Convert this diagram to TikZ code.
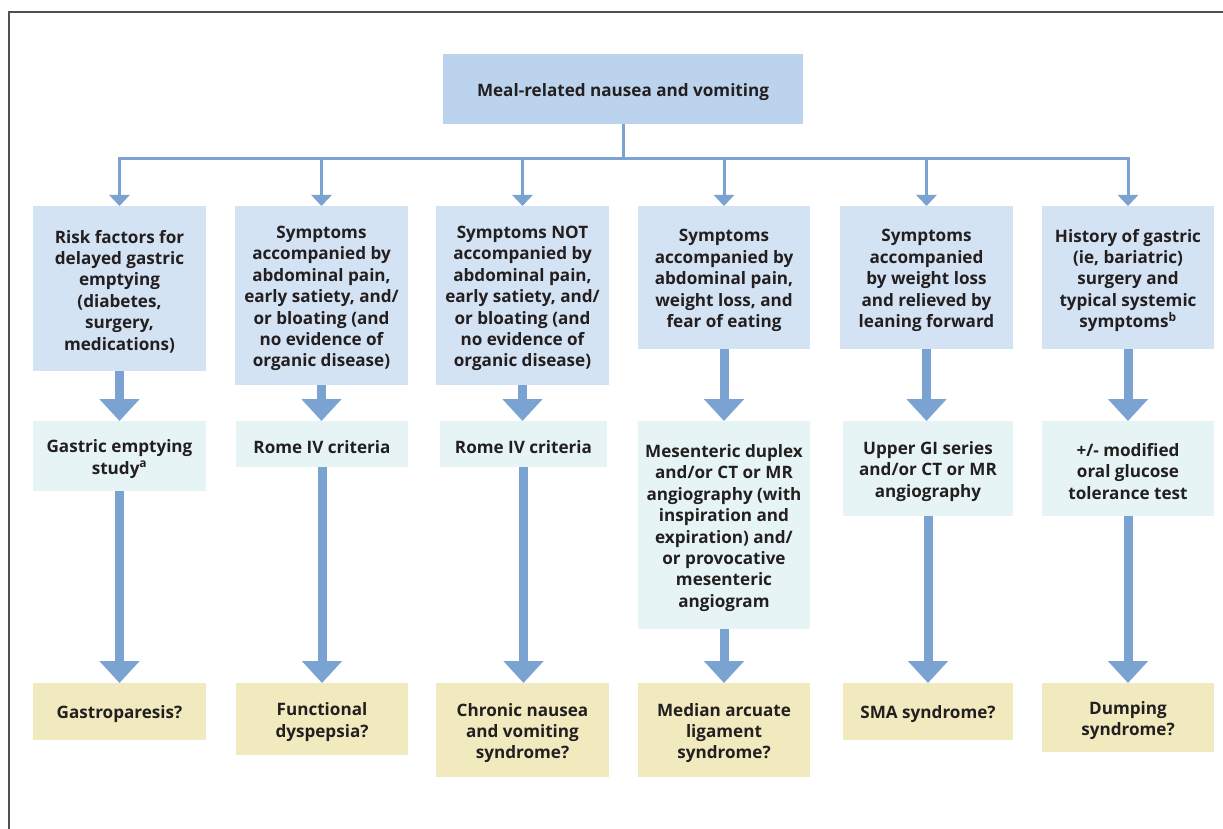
\documentclass[tikz,border=0pt]{standalone}
\usepackage{fontspec}
\setmainfont{Open Sans}
\usetikzlibrary{arrows.meta}
\definecolor{topc}{RGB}{188,211,237}
\definecolor{rowa}{RGB}{212,227,243}
\definecolor{rowb}{RGB}{230,244,246}
\definecolor{rowc}{RGB}{241,234,190}
\definecolor{arr}{RGB}{122,163,210}
\definecolor{txt}{RGB}{35,31,32}
\definecolor{frame}{RGB}{80,80,80}
\tikzset{
  box/.style={inner sep=0pt, outer sep=0pt},
  label text/.style={inner sep=0pt, outer sep=0pt, align=center, text=txt,
    font=\bfseries\fontsize{17.1}{21.4}\selectfont},
  topbox/.style={box, fill=topc},
  boxa/.style={box, fill=rowa},
  boxb/.style={box, fill=rowb},
  boxc/.style={box, fill=rowc},
  thinarrow/.style={draw=arr, line width=3pt, -{Triangle[width=20pt,length=11pt]}},
  thickarrow/.style={draw=arr, line width=9pt, -{Triangle[width=39pt,length=22pt]}},
}
% place a box by its left, top, right, bottom pixel edges, with its text
\newcommand{\pbox}[7]{%
  \node[#1, minimum width={(#5)-(#3)}, minimum height={(#6)-(#4)}]
    (#2) at ({((#3)+(#5))/2},{((#4)+(#6))/2}) {};
  \node[label text] (#2-text) at ([yshift=-3pt]#2.center) {#7};}
\begin{document}
\begin{tikzpicture}[x=1pt,y=-1pt]
\useasboundingbox (0,0) rectangle (1223,829);
\draw[frame, line width=1.5pt] (9,829) -- (9,12) -- (1223,12);

\pbox{topbox}{top}{443}{54}{803}{124}{Meal-related nausea and vomiting}

% row 1
\pbox{boxa}{a1}{33}{206}{206}{371}{Risk factors for\\delayed gastric\\emptying\\(diabetes,\\surgery,\\medications)}
\pbox{boxa}{a2}{235}{206}{408}{385}{Symptoms\\accompanied by\\abdominal pain,\\early satiety, and/\\or bloating (and\\no evidence of\\organic disease)}
\pbox{boxa}{a3}{436}{206}{609}{385}{Symptoms NOT\\accompanied by\\abdominal pain,\\early satiety, and/\\or bloating (and\\no evidence of\\organic disease)}
\pbox{boxa}{a4}{638}{206}{810}{349}{Symptoms\\accompanied by\\abdominal pain,\\weight loss, and\\fear of eating}
\pbox{boxa}{a5}{840}{206}{1013}{349}{Symptoms\\accompanied\\by weight loss\\and relieved by\\leaning forward}
\pbox{boxa}{a6}{1042}{206}{1214}{349}{History of gastric\\(ie, bariatric)\\surgery and\\typical systemic\\symptoms\textsuperscript{b}}

% row 2
\pbox{boxb}{b1}{33}{421}{206}{491}{Gastric emptying\\study\textsuperscript{a}}
\pbox{boxb}{b2}{236}{421}{408}{467}{Rome IV criteria}
\pbox{boxb}{b3}{440}{421}{607}{467}{Rome IV criteria}
\pbox{boxb}{b4}{638}{421}{810}{629}{Mesenteric duplex\\and/or CT or MR\\angiography (with\\inspiration and\\expiration) and/\\or provocative\\mesenteric\\angiogram}
\pbox{boxb}{b5}{843}{421}{1013}{516}{Upper GI series\\and/or CT or MR\\angiography}
\pbox{boxb}{b6}{1042}{421}{1214}{516}{+/- modified\\oral glucose\\tolerance test}

% row 3
\pbox{boxc}{c1}{33}{683}{206}{740}{Gastroparesis?}
\pbox{boxc}{c2}{236}{683}{408}{755}{Functional\\dyspepsia?}
\pbox{boxc}{c3}{436}{683}{609}{777}{Chronic nausea\\and vomiting\\syndrome?}
\pbox{boxc}{c4}{638}{683}{810}{777}{Median arcuate\\ligament\\syndrome?}
\pbox{boxc}{c5}{843}{683}{1013}{740}{SMA syndrome?}
\pbox{boxc}{c6}{1042}{683}{1214}{752}{Dumping\\syndrome?}

% tree connectors
\foreach \n in {a1,a2,a3,a4,a5,a6}
  \draw[thinarrow] (top.south) -- ++(0,35) -| (\n.north);

% thick arrows
\foreach \u/\v in {a1/b1,a2/b2,a3/b3,a4/b4,a5/b5,a6/b6,b1/c1,b2/c2,b3/c3,b4/c4,b5/c5,b6/c6}
  \draw[thickarrow] (\u.south) -- (\u.south |- \v.north);
\end{tikzpicture}
\end{document}
